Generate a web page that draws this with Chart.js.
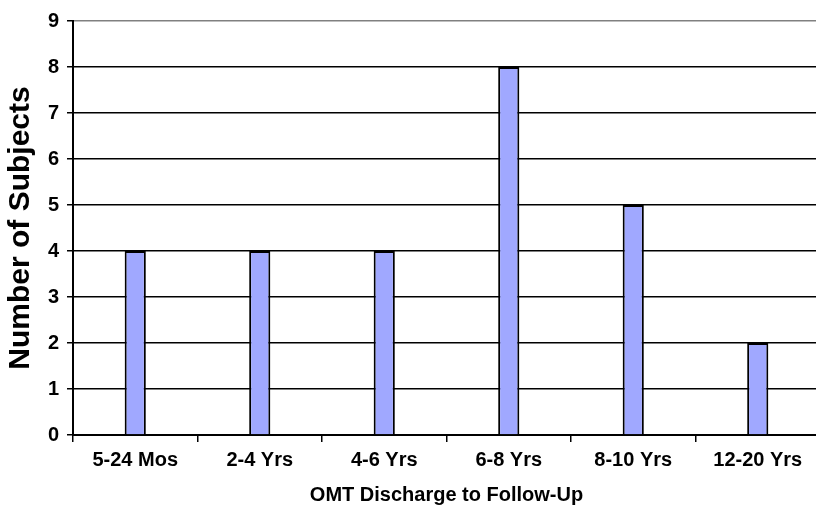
<!DOCTYPE html>
<html>
<head>
<meta charset="utf-8">
<script src="https://cdn.jsdelivr.net/npm/chart.js@4"></script>
<style>
    html, body { margin: 0; padding: 0; background: #fff; overflow: hidden; }
    #wrap { width: 820px; height: 509px; }
</style>
</head>
<body>
<div id="wrap"><canvas id="barChart" width="820" height="509"></canvas></div>
<script>
// categories and counts
const periods = ["5-24 Mos", "2-4 Yrs", "4-6 Yrs", "6-8 Yrs", "8-10 Yrs", "12-20 Yrs"];
const subjects = [4, 4, 4, 8, 5, 2];
const yTicks = [0, 1, 2, 3, 4, 5, 6, 7, 8, 9];

window.onload = function () {
    const ctx = document.getElementById("barChart").getContext("2d");

    new Chart(ctx, {
        type: "bar",
        data: {
            labels: periods,
            datasets: [
                {
                    label: "Subjects",
                    data: subjects,
                    backgroundColor: "#a0a8ff",
                    borderColor: "#000",
                    borderWidth: 2,
                    categoryPercentage: 1,
                    barPercentage: 0.17,
                },
            ],
        },
        options: {
            responsive: false,
            animation: false,
            devicePixelRatio: 1,
            layout: { padding: { top: 21, left: 0, right: 0, bottom: 0 } },
            plugins: {
                legend: { display: false },
                tooltip: { enabled: false },
            },
            scales: {
                x: {
                    offset: true,
                    grid: {
                        display: true,
                        offset: true,
                        drawOnChartArea: false,
                        drawTicks: true,
                        tickLength: 7,
                        color: "#000",
                        lineWidth: 1.5,
                    },
                    border: { display: true, color: "#000", width: 2 },
                    ticks: {
                        color: "#000",
                        padding: 6,
                        font: { family: "Arial, 'Liberation Sans'", size: 20, weight: "bold" },
                    },
                    title: {
                        display: true,
                        text: "OMT Discharge to Follow-Up",
                        color: "#000",
                        font: { family: "Arial, 'Liberation Sans'", size: 20, weight: "bold", lineHeight: 1 },
                        padding: { top: 0, bottom: 4 },
                    },
                    afterFit: function (scale) {
                        scale.height = 74;
                    },
                },
                y: {
                    min: 0,
                    max: 9,
                    afterBuildTicks: function (scale) {
                        scale.ticks = yTicks.map(function (v) { return { value: v }; });
                    },
                    grid: {
                        color: function (c) {
                            return c.tick && c.tick.value === 9 ? "#808080" : "#000";
                        },
                        lineWidth: 1.5,
                        tickLength: 6,
                        tickColor: "#000",
                    },
                    border: { display: true, color: "#000", width: 2 },
                    ticks: {
                        color: "#000",
                        padding: 8,
                        font: { family: "Arial, 'Liberation Sans'", size: 20, weight: "bold" },
                    },
                    title: {
                        display: true,
                        text: "Number of Subjects",
                        color: "#000",
                        font: { family: "Arial, 'Liberation Sans'", size: 30, weight: "bold", lineHeight: 1 },
                        padding: { top: 6, bottom: 0 },
                    },
                    afterFit: function (scale) {
                        scale.width = 73;
                    },
                },
            },
        },
    });
};
</script>
</body>
</html>
